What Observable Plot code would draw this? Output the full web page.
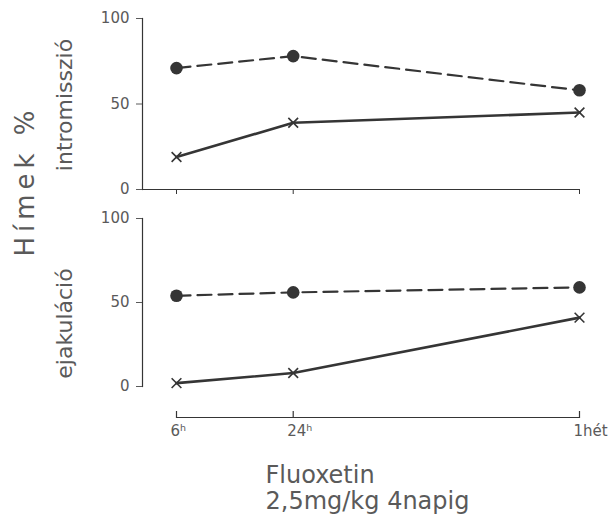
<!DOCTYPE html>
<html>
<head>
<meta charset="utf-8">
<script src="https://cdn.jsdelivr.net/npm/d3@7"></script>
<script src="https://cdn.jsdelivr.net/npm/@observablehq/plot@0.6"></script>
<style>
  html, body { margin: 0; padding: 0; background: #fff; }
  #chart { position: relative; width: 609px; height: 515px; background: #fff; }
  #chart svg { position: absolute; left: 0; top: 0; }
</style>
</head>
<body>
<div id="chart"></div>
<script>
// ---- data ----
const hours = [6, 24, 168];
const timeLabels = ["6ʰ", "24ʰ", "1hét"];
const yTicks = [0, 50, 100];

const intromCircle = [71, 78, 58];   // dashed line, filled circles
const intromCross  = [19, 39, 45];   // solid line, crosses
const ejakCircle   = [54, 56, 59];
const ejakCross    = [2, 8, 41];

const yLabel = "Hímek %";
const panelLabels = ["intromisszió", "ejakuláció"];
const captionLines = ["Fluoxetin", "2,5mg/kg 4napig"];

// ---- styles ----
const W = 609, H = 515;
const ink = "#353535";
const textInk = "#5a5a5a";
const font = "DejaVu Sans";
const xScale = {type: "pow", exponent: 0.33, domain: [6, 168], range: [176, 579], axis: null};

function series(vals) { return hours.map((h, i) => ({h, v: vals[i]})); }

function dataMarks(circleVals, crossVals) {
  const c = series(circleVals), x = series(crossVals);
  return [
    Plot.line(c, {x: "h", y: "v", stroke: ink, strokeWidth: 2.2, strokeDasharray: "14,7"}),
    Plot.line(x, {x: "h", y: "v", stroke: ink, strokeWidth: 2.6}),
    Plot.dot(c, {x: "h", y: "v", r: 6.3, fill: ink, stroke: "none"}),
    Plot.dot(x, {x: "h", y: "v", symbol: "times", r: 4.5, stroke: ink, strokeWidth: 1.6})
  ];
}

const svgStyle = {background: "transparent", overflow: "visible", fontFamily: font};

// ---- top panel: intromisszió ----
const topPanel = Plot.plot({
  width: W, height: H,
  marginTop: 18, marginBottom: H - 189, marginLeft: 142, marginRight: 29,
  style: svgStyle,
  x: xScale,
  y: {domain: [0, 100], axis: null},
  marks: [
    Plot.frame({anchor: "left", stroke: ink, strokeWidth: 1.2}),
    Plot.ruleY([0], {stroke: ink, strokeWidth: 1.2}),
    Plot.axisY({ticks: yTicks, tickSize: 6, tickPadding: 7, fontSize: 15, color: textInk, label: null}),
    Plot.axisX({ticks: hours, tickSize: 5, tickFormat: () => "", color: ink, label: null}),
    ...dataMarks(intromCircle, intromCross),
    Plot.text([panelLabels[0]], {text: d => d, frameAnchor: "left", textAnchor: "middle", rotate: -90,
                                  dx: -78, dy: 1, fontSize: 22, fill: textInk}),
    Plot.text([yLabel], {text: d => d, frameAnchor: "left", textAnchor: "middle", rotate: -90,
                          dx: -117, dy: 77, fontSize: 26, fill: textInk})
  ]
});

// ---- bottom panel: ejakuláció ----
const bottomPanel = Plot.plot({
  width: W, height: H,
  marginTop: 218, marginBottom: H - 386, marginLeft: 142, marginRight: 29,
  style: svgStyle,
  x: xScale,
  y: {domain: [0, 100], axis: null},
  marks: [
    Plot.frame({anchor: "left", stroke: ink, strokeWidth: 1.2}),
    Plot.axisY({ticks: yTicks, tickSize: 6, tickPadding: 7, fontSize: 15, color: textInk, label: null}),
    ...dataMarks(ejakCircle, ejakCross),
    Plot.text([panelLabels[1]], {text: d => d, frameAnchor: "left", textAnchor: "middle", rotate: -90,
                                  dx: -78, dy: 21, fontSize: 22, fill: textInk})
  ]
});

// ---- shared time axis + caption ----
const timeAxis = Plot.plot({
  width: W, height: H,
  marginTop: 411, marginBottom: H - 417, marginLeft: 176, marginRight: 30,
  style: svgStyle,
  x: {type: "pow", exponent: 0.33, domain: [6, 168], axis: null},
  marks: [
    Plot.frame({anchor: "bottom", stroke: ink, strokeWidth: 1.2}),
    Plot.tickX(hours, {x: d => d, stroke: ink, strokeWidth: 1.2}),
    Plot.text(hours, {x: d => d, text: (d, i) => timeLabels[i], frameAnchor: "bottom", lineAnchor: "top",
                      textAnchor: "start", dx: -6, dy: 8, fontSize: 15, fill: textInk}),
    Plot.text([captionLines.join("\n")], {text: d => d, frameAnchor: "bottom-left", textAnchor: "start",
                      lineAnchor: "bottom", lineHeight: 1.08, dx: 89, dy: 91, fontSize: 24, fill: textInk})
  ]
});

const chart = document.getElementById("chart");
chart.append(topPanel, bottomPanel, timeAxis);

d3.select(topPanel).selectAll("text")
  .filter(function () { return this.textContent === yLabel; })
  .attr("letter-spacing", 5);
</script>
</body>
</html>
